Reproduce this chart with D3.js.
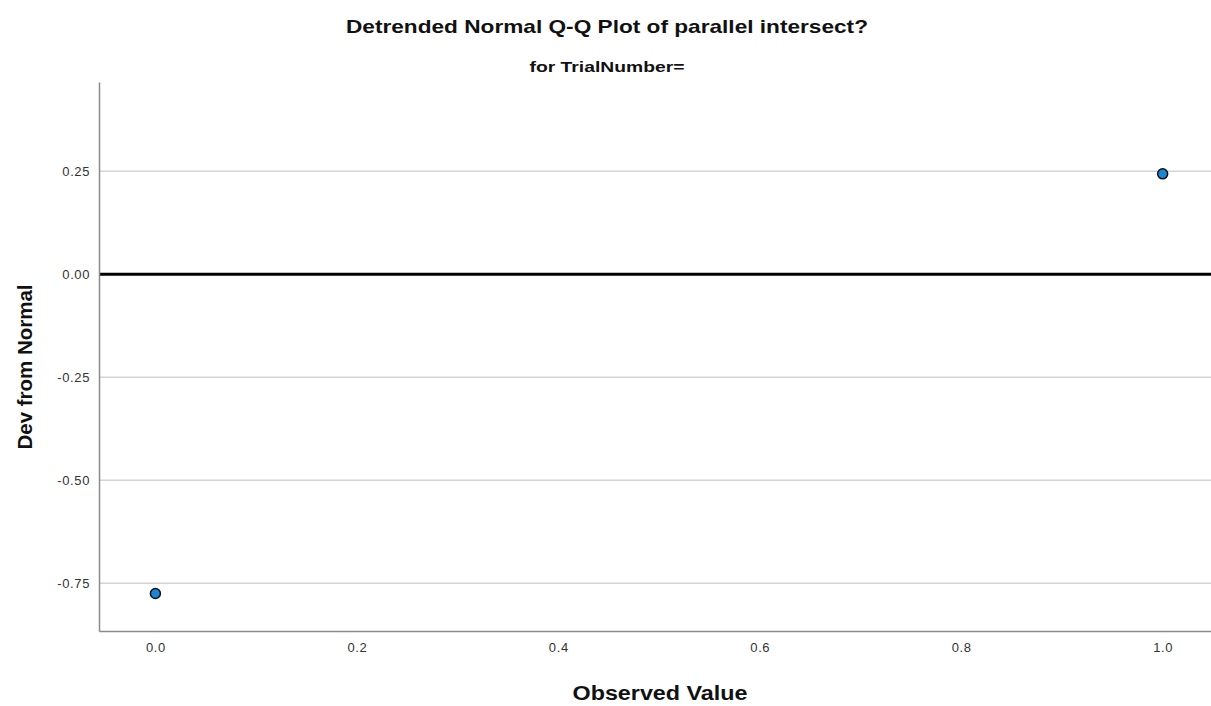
<!DOCTYPE html>
<html>
<head>
<meta charset="utf-8">
<script src="https://cdn.jsdelivr.net/npm/d3@7"></script>
<style>
  body { margin: 0; background: #fff; }
  svg { display: block; font-family: "Liberation Sans", Arial, sans-serif; }
</style>
</head>
<body>
<svg id="chart" width="1211" height="706"></svg>
<script>
// data
const observed = [0.0, 1.0];
const devFromNormal = [-0.775, 0.244];
const yTicks = [0.25, 0.00, -0.25, -0.50, -0.75];
const xTicks = [0.0, 0.2, 0.4, 0.6, 0.8, 1.0];

const svg = d3.select('#chart');
const width = 1211, height = 706;
const margin = { left: 99, right: 0, top: 82, bottom: 75 };

const x = d3.scaleLinear()
  .domain([-0.056, 1.048])
  .range([margin.left, width - margin.right]);
const y = d3.scaleLinear()
  .domain([-0.866, 0.467])
  .range([height - margin.bottom, margin.top]);

// plain hyphen instead of unicode minus, like the original
const fmt = f => d => d3.format(f)(d).replace('\u2212', '-');

// gridlines
svg.append('g')
  .selectAll('line')
  .data(yTicks.filter(d => d !== 0))
  .join('line')
  .attr('x1', margin.left)
  .attr('x2', width - margin.right)
  .attr('y1', d => y(d))
  .attr('y2', d => y(d))
  .attr('stroke', '#d4d4d4')
  .attr('stroke-width', 1.5);

// reference line at zero
svg.append('line')
  .attr('x1', margin.left)
  .attr('x2', width - margin.right)
  .attr('y1', y(0))
  .attr('y2', y(0))
  .attr('stroke', '#000')
  .attr('stroke-width', 3);

// axes
const yAxis = svg.append('g')
  .attr('transform', 'translate(' + margin.left + ',0)')
  .call(d3.axisLeft(y).tickValues(yTicks).tickFormat(fmt('.2f')).tickSize(0).tickPadding(9));
const xAxis = svg.append('g')
  .attr('transform', 'translate(0,' + (height - margin.bottom) + ')')
  .call(d3.axisBottom(x).tickValues(xTicks).tickFormat(fmt('.1f')).tickSize(0).tickPadding(12));

[yAxis, xAxis].forEach(function (g) {
  g.select('.domain').attr('stroke', '#8a8a8a').attr('stroke-width', 1.5);
  g.selectAll('text')
    .attr('font-family', '"Liberation Sans", Arial, sans-serif')
    .attr('font-size', 13)
    .attr('letter-spacing', 0.6)
    .attr('fill', '#333');
});

// points
svg.append('g')
  .selectAll('circle')
  .data(observed.map((d, i) => [d, devFromNormal[i]]))
  .join('circle')
  .attr('cx', d => x(d[0]))
  .attr('cy', d => y(d[1]))
  .attr('r', 5)
  .attr('fill', '#1a86d8')
  .attr('stroke', '#111')
  .attr('stroke-width', 1.5);

// titles, stretched to the original's wide lettering
function label(sel, size, len) {
  return sel
    .attr('text-anchor', 'middle')
    .attr('font-weight', 'bold')
    .attr('font-size', size)
    .attr('textLength', len)
    .attr('lengthAdjust', 'spacingAndGlyphs')
    .attr('fill', '#111');
}

label(svg.append('text').attr('x', 607).attr('y', 33), 19, 522)
  .text('Detrended Normal Q-Q Plot of parallel intersect?');
label(svg.append('text').attr('x', 607).attr('y', 72), 14.5, 155)
  .text('for TrialNumber=');
label(svg.append('text').attr('x', 660).attr('y', 700), 20, 175)
  .text('Observed Value');
label(svg.append('text').attr('transform', 'translate(32,367) rotate(-90)'), 20, 165)
  .text('Dev from Normal');
</script>
</body>
</html>
